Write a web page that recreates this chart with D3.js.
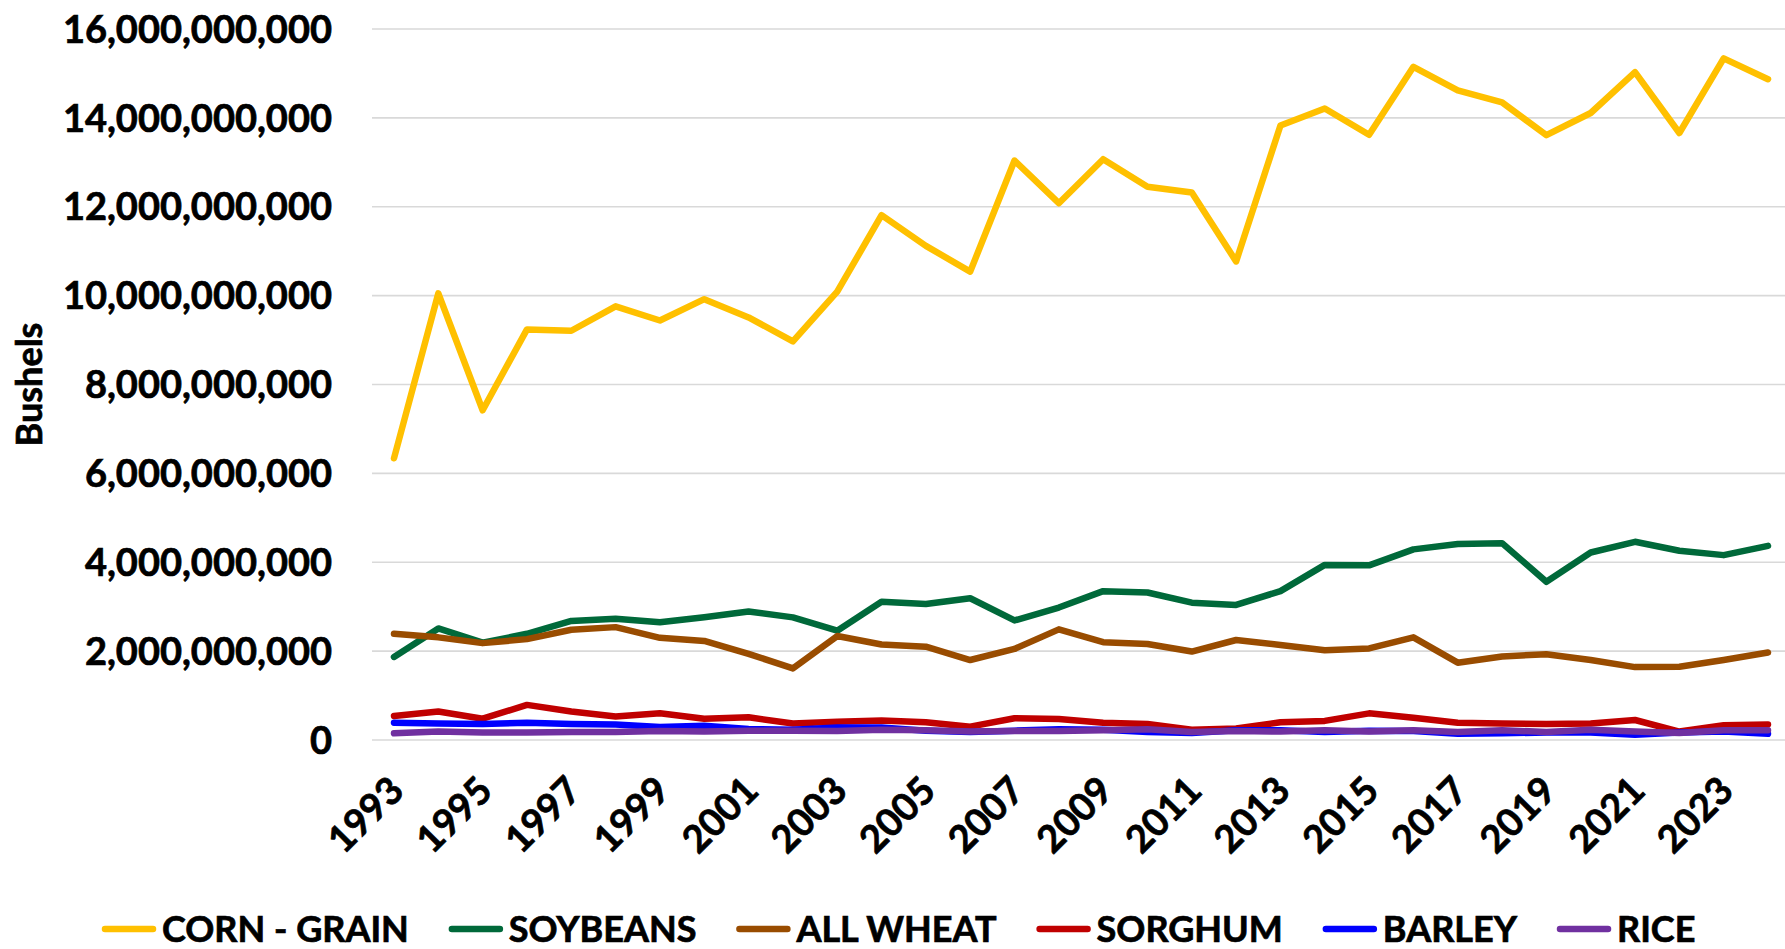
<!DOCTYPE html>
<html>
<head>
<meta charset="utf-8">
<script src="https://cdn.jsdelivr.net/npm/d3@7"></script>
<style>
  html, body { margin: 0; padding: 0; background: #fff; }
  svg { display: block; font-family: Lato, "Open Sans", sans-serif; font-weight: bold; }
  text { stroke: #000; stroke-width: 0.7px; }
</style>
</head>
<body>
<div id="chart"></div>
<script>
// values in billions of bushels
const years = [1993, 1994, 1995, 1996, 1997, 1998, 1999, 2000, 2001, 2002, 2003, 2004, 2005, 2006, 2007, 2008,
    2009, 2010, 2011, 2012, 2013, 2014, 2015, 2016, 2017, 2018, 2019, 2020, 2021, 2022, 2023, 2024]
const yearLabels = years.filter((d, i) => i % 2 == 0)
const yTicks = [0, 2, 4, 6, 8, 10, 12, 14, 16]

const corn = [6.34, 10.05, 7.42, 9.24, 9.21, 9.76, 9.44, 9.92, 9.51, 8.97, 10.09, 11.81, 11.12, 10.54, 13.04, 12.08,
    13.07, 12.45, 12.32, 10.77, 13.83, 14.21, 13.62, 15.15, 14.62, 14.35, 13.61, 14.11, 15.03, 13.66, 15.34, 14.87]
const soybeans = [1.87, 2.51, 2.19, 2.39, 2.68, 2.73, 2.65, 2.76, 2.89, 2.76, 2.46, 3.11, 3.06, 3.19, 2.69, 2.98,
    3.35, 3.32, 3.09, 3.04, 3.35, 3.94, 3.93, 4.29, 4.41, 4.43, 3.56, 4.22, 4.46, 4.26, 4.16, 4.37]
const wheat = [2.39, 2.31, 2.18, 2.27, 2.48, 2.54, 2.30, 2.23, 1.94, 1.61, 2.34, 2.15, 2.10, 1.80, 2.05, 2.49,
    2.20, 2.16, 1.99, 2.25, 2.14, 2.02, 2.06, 2.31, 1.74, 1.88, 1.93, 1.80, 1.64, 1.65, 1.80, 1.97]
const sorghum = [0.54, 0.64, 0.48, 0.79, 0.64, 0.53, 0.60, 0.48, 0.51, 0.37, 0.41, 0.44, 0.40, 0.30, 0.49, 0.47,
    0.39, 0.36, 0.23, 0.26, 0.40, 0.43, 0.60, 0.50, 0.39, 0.37, 0.36, 0.37, 0.45, 0.19, 0.33, 0.35]
const barley = [0.39, 0.37, 0.36, 0.39, 0.36, 0.35, 0.29, 0.32, 0.25, 0.23, 0.28, 0.28, 0.21, 0.18, 0.21, 0.24,
    0.23, 0.18, 0.16, 0.22, 0.22, 0.18, 0.21, 0.20, 0.14, 0.15, 0.17, 0.17, 0.12, 0.17, 0.19, 0.14]
const rice = [0.15, 0.19, 0.17, 0.17, 0.18, 0.18, 0.20, 0.19, 0.21, 0.21, 0.20, 0.23, 0.22, 0.19, 0.20, 0.20,
    0.22, 0.24, 0.18, 0.20, 0.19, 0.22, 0.19, 0.22, 0.18, 0.22, 0.18, 0.23, 0.19, 0.16, 0.22, 0.22]

const seriesNames = ["CORN - GRAIN", "SOYBEANS", "ALL WHEAT", "SORGHUM", "BARLEY", "RICE"]
const seriesColors = ["#FFC000", "#00693A", "#994C00", "#C00000", "#0000FF", "#7030A0"]
const seriesValues = [corn, soybeans, wheat, sorghum, barley, rice]

const width = 1785, height = 949

const svg = d3.select("#chart")
    .append("svg")
    .attr("width", width)
    .attr("height", height)

x = d3.scalePoint()
    .domain(years)
    .range([394, 1768])

y = d3.scaleLinear()
    .domain([0, 16])
    .range([740, 29])

const fmt = d3.format(",")

// gridlines + y labels
svg.append("g")
    .selectAll("line")
    .data(yTicks)
    .join("line")
    .attr("x1", 372)
    .attr("x2", width)
    .attr("y1", d => y(d))
    .attr("y2", d => y(d))
    .attr("stroke", "#d9d9d9")
    .attr("stroke-width", 1.6)

svg.append("g")
    .selectAll("text")
    .data(yTicks)
    .join("text")
    .attr("x", 332)
    .attr("y", d => y(d))
    .attr("dy", "0.36em")
    .attr("text-anchor", "end")
    .attr("font-size", 38)
    .text(d => fmt(d * 1e9))

svg.append("text")
    .attr("transform", `translate(42,${(y(0) + y(16)) / 2})rotate(-90)`)
    .attr("text-anchor", "middle")
    .attr("font-size", 36)
    .text("Bushels")

// x labels
svg.append("g")
    .selectAll("text")
    .data(yearLabels)
    .join("text")
    .attr("transform", d => `translate(${x(d) + 12},793)rotate(-45)`)
    .attr("text-anchor", "end")
    .attr("font-size", 38)
    .text(d => d)

// lines
const line = d3.line()
    .x((d, i) => x(years[i]))
    .y(d => y(d))

svg.append("g")
    .selectAll("path")
    .data(seriesValues)
    .join("path")
    .attr("d", line)
    .attr("fill", "none")
    .attr("stroke", (d, i) => seriesColors[i])
    .attr("stroke-width", 6.5)
    .attr("stroke-linejoin", "round")
    .attr("stroke-linecap", "round")

// legend, laid out left to right
const legend = svg.append("g")
let lx = 102
seriesNames.forEach((name, i) => {
    legend.append("line")
        .attr("x1", lx + 3)
        .attr("x2", lx + 51)
        .attr("y1", 929)
        .attr("y2", 929)
        .attr("stroke", seriesColors[i])
        .attr("stroke-width", 6.5)
        .attr("stroke-linecap", "round")
    const t = legend.append("text")
        .attr("x", lx + 60)
        .attr("y", 929)
        .attr("dy", "0.36em")
        .attr("font-size", 36)
        .text(name)
    lx += 60 + t.node().getComputedTextLength() + 40
})
</script>
</body>
</html>
